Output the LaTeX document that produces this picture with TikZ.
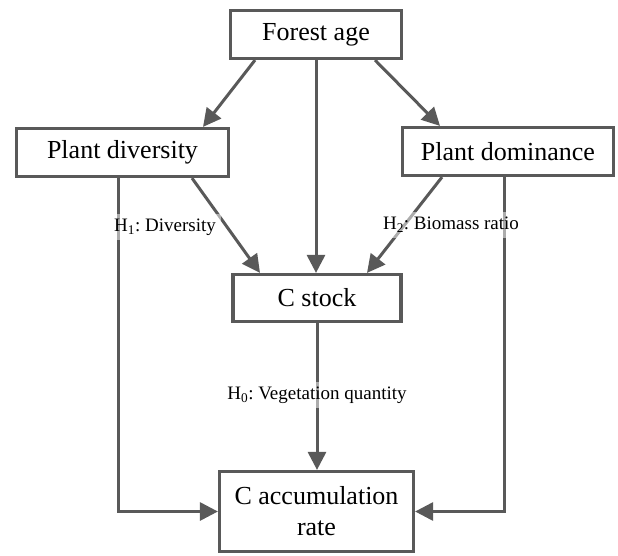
\documentclass[tikz,border=0pt]{standalone}
\usepackage{fontspec}
\setmainfont{Liberation Serif}
\usepackage{tikz}
\usetikzlibrary{arrows.meta}
\frenchspacing

\definecolor{linegray}{HTML}{595959}

\begin{document}
\begin{tikzpicture}[x=1pt,y=-1pt,
        box/.style={draw=linegray,line width=3.2pt,fill=white,align=center,
                    font=\fontsize{26}{31}\selectfont,inner sep=2pt},
        lbl/.style={fill=white,fill opacity=0.5,text opacity=1,
                    font=\fontsize{19}{22}\selectfont,inner sep=5pt}]
        \useasboundingbox (0,0) rectangle (618,555);

        \node[box,minimum width=171pt,minimum height=48pt] (fa) at (316,34.5) {Forest age};
        \node[box,minimum width=212pt,minimum height=48pt] (pd) at (122.5,152.5) {Plant diversity};
        \node[box,minimum width=211pt,minimum height=48pt] (pm) at (508,151.5) {Plant dominance};
        \node[box,minimum width=168pt,minimum height=47pt] (cs) at (317,298) {C stock};
        \node[box,minimum width=194pt,minimum height=80pt] (ca) at (316.5,511.5) {C accumulation\\rate};

        \draw[->,>={Triangle[length=18pt,width=18pt]},line width=3pt,linegray]
          ([xshift=-61pt]fa.south) -- ([xshift=80.5pt]pd.north);
        \draw[->,>={Triangle[length=18pt,width=18pt]},line width=3pt,linegray]
          ([xshift=59pt]fa.south) -- ([xshift=-68pt]pm.north);
        \draw[->,>={Triangle[length=18pt,width=18pt]},line width=3pt,linegray]
          (fa.south) -- (fa.south |- cs.north);
        \draw[->,>={Triangle[length=18pt,width=18pt]},line width=3pt,linegray]
          ([xshift=69.5pt]pd.south) -- ([xshift=-57pt]cs.north);
        \draw[->,>={Triangle[length=18pt,width=18pt]},line width=3pt,linegray]
          ([xshift=-66pt]pm.south) -- ([xshift=50pt]cs.north);
        \draw[->,>={Triangle[length=18pt,width=18pt]},line width=3pt,linegray]
          ([xshift=-4.5pt]pd.south) |- (ca.west);
        \draw[->,>={Triangle[length=18pt,width=18pt]},line width=3pt,linegray]
          ([xshift=-4pt]pm.south) |- (ca.east);
        \draw[->,>={Triangle[length=18pt,width=18pt]},line width=3pt,linegray]
          (cs.south) -- (cs.south |- ca.north);

        \node[lbl] (h1) at (165,227) {H\textsubscript{1}: Diversity};
        \node[lbl] (h2) at (451,225) {H\textsubscript{2}: Biomass ratio};
        \node[lbl] (h0) at (317,395) {H\textsubscript{0}: Vegetation quantity};
      \end{tikzpicture}
\end{document}
